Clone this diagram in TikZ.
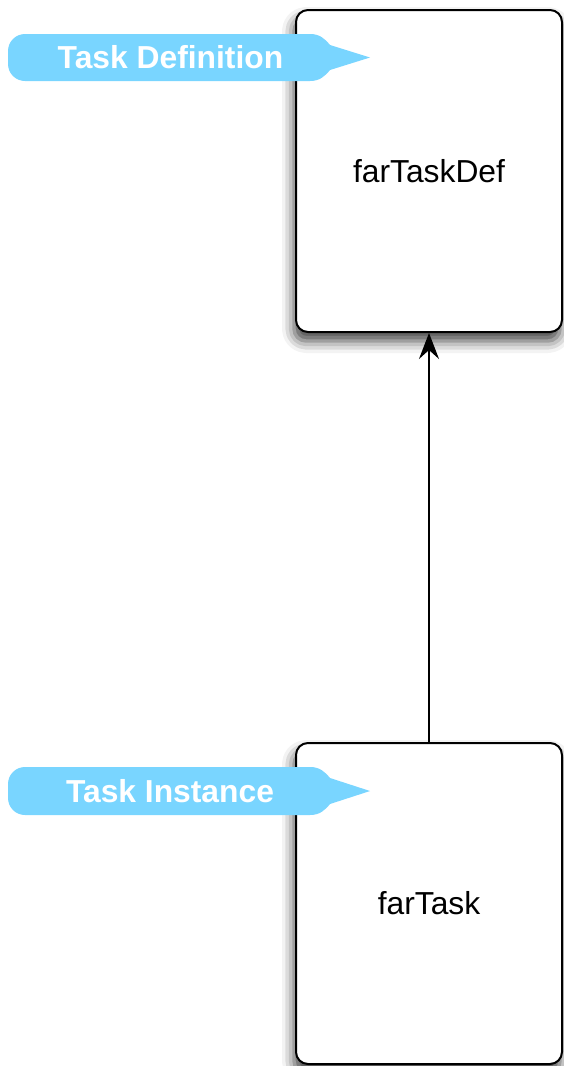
\documentclass[tikz,border=0pt]{standalone}
\usepackage{fontspec}
\setmainfont{Liberation Sans}
\usetikzlibrary{arrows.meta,shadows.blur}
\definecolor{calloutblue}{RGB}{121,213,255}
\tikzset{
  classbox/.style={draw=black, line width=2pt, fill=white, rounded corners=12pt,
    minimum width=266pt, inner sep=0pt,
    blur shadow={shadow xshift=-2pt, shadow yshift=-9pt, shadow blur radius=12pt, shadow opacity=75},
    font=\fontsize{31.8}{36}\selectfont},
  callouttext/.style={text=white, font=\fontsize{31.8}{36}\selectfont\bfseries, inner sep=0pt},
  calloutfill/.style={fill=calloutblue},
  linkarrow/.style={line width=2pt, -{Stealth[length=26pt, width=20pt, inset=9pt]}}
}
\begin{document}
\begin{tikzpicture}[x=1pt,y=-1pt]
\useasboundingbox (0,0) rectangle (563,1066);
% boxes
\node[classbox, minimum height=322pt] (def) at (429,171) {farTaskDef};
\node[classbox, minimum height=321pt] (task) at (429,903.5) {farTask};
% arrow
\draw[linkarrow] (task.north) -- (def.south);
% callout 1
\path[calloutfill] (310,34) .. controls (320,34) and (325,39) .. (330,45) -- (370,57.5) -- (330,70)
  .. controls (325,76) and (320,81) .. (310,81) -- (25,81)
  .. controls (15.6,81) and (8,73.4) .. (8,64) -- (8,51)
  .. controls (8,41.6) and (15.6,34) .. (25,34) -- cycle;
\node[callouttext] (lbldef) at (170.5,57.5) {Task Definition};
% callout 2
\path[calloutfill] (310,767) .. controls (320,767) and (325,772) .. (330,778) -- (370,791) -- (330,804)
  .. controls (325,810) and (320,815) .. (310,815) -- (25,815)
  .. controls (15.6,815) and (8,807.4) .. (8,798) -- (8,784)
  .. controls (8,774.6) and (15.6,767) .. (25,767) -- cycle;
\node[callouttext] (lbltask) at (170,791) {Task Instance};
\end{tikzpicture}
\end{document}
